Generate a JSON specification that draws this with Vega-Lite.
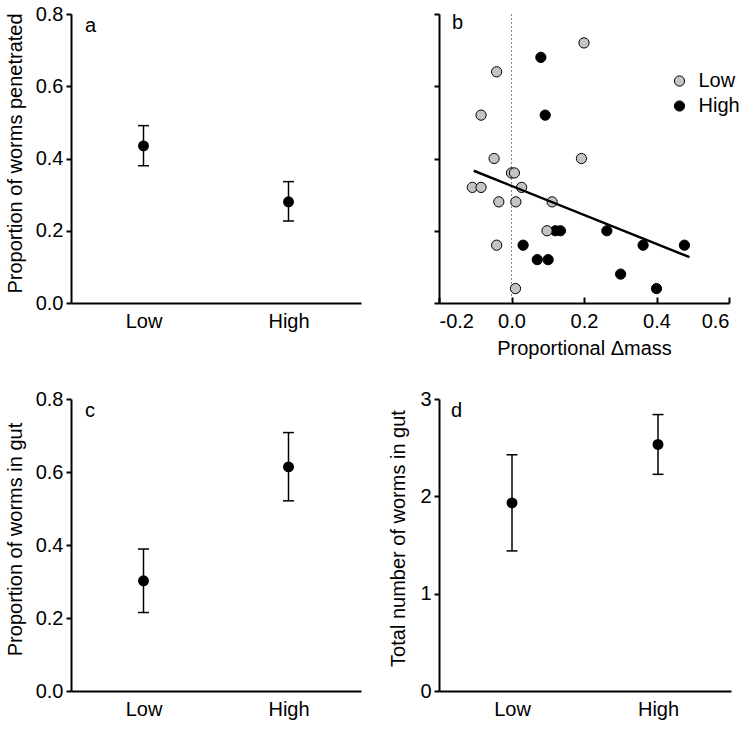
{
  "$schema": "https://vega.github.io/schema/vega-lite/v6.json",
  "background": "white",
  "padding": {"left": 5, "top": 4, "right": 5, "bottom": 5},
  "config": {
    "font": "Liberation Sans",
    "view": {"stroke": null},
    "axis": {
      "domainColor": "black", "domainWidth": 2, "tickColor": "black", "tickWidth": 2,
      "labelFontSize": 20, "titleFontSize": 20, "titleFontWeight": "normal",
      "labelColor": "black", "titleColor": "black", "grid": false, "labelFont": "Liberation Sans", "titleFont": "Liberation Sans"
    },
    "text": {"font": "Liberation Sans", "fontSize": 20, "fontWeight": "normal", "color": "black"}
  },
  "datasets": {
    "penetrated": [
      {"density": "Low", "mean": 0.435, "lo": 0.380, "hi": 0.491},
      {"density": "High", "mean": 0.280, "lo": 0.227, "hi": 0.336}
    ],
    "gutprop": [
      {"density": "Low", "mean": 0.302, "lo": 0.215, "hi": 0.389},
      {"density": "High", "mean": 0.614, "lo": 0.521, "hi": 0.708}
    ],
    "gutnum": [
      {"density": "Low", "mean": 1.933, "lo": 1.439, "hi": 2.427},
      {"density": "High", "mean": 2.533, "lo": 2.226, "hi": 2.840}
    ],
    "scatter": [
      {"density": "High", "dmass": 0.081, "prop": 0.68},
      {"density": "High", "dmass": 0.093, "prop": 0.52},
      {"density": "High", "dmass": 0.121, "prop": 0.2},
      {"density": "High", "dmass": 0.135, "prop": 0.2},
      {"density": "High", "dmass": 0.263, "prop": 0.2},
      {"density": "High", "dmass": 0.032, "prop": 0.16},
      {"density": "High", "dmass": 0.363, "prop": 0.16},
      {"density": "High", "dmass": 0.477, "prop": 0.16},
      {"density": "High", "dmass": 0.071, "prop": 0.12},
      {"density": "High", "dmass": 0.101, "prop": 0.12},
      {"density": "High", "dmass": 0.301, "prop": 0.08},
      {"density": "High", "dmass": 0.4, "prop": 0.04},
      {"density": "Low", "dmass": 0.2, "prop": 0.72},
      {"density": "Low", "dmass": -0.041, "prop": 0.64},
      {"density": "Low", "dmass": -0.084, "prop": 0.52},
      {"density": "Low", "dmass": -0.048, "prop": 0.4},
      {"density": "Low", "dmass": 0.193, "prop": 0.4},
      {"density": "Low", "dmass": 0.0, "prop": 0.36},
      {"density": "Low", "dmass": 0.008, "prop": 0.36},
      {"density": "Low", "dmass": -0.108, "prop": 0.32},
      {"density": "Low", "dmass": -0.084, "prop": 0.32},
      {"density": "Low", "dmass": 0.028, "prop": 0.32},
      {"density": "Low", "dmass": -0.035, "prop": 0.28},
      {"density": "Low", "dmass": 0.012, "prop": 0.28},
      {"density": "Low", "dmass": 0.112, "prop": 0.28},
      {"density": "Low", "dmass": 0.098, "prop": 0.2},
      {"density": "Low", "dmass": -0.041, "prop": 0.16},
      {"density": "Low", "dmass": 0.011, "prop": 0.04}
    ],
    "fit": [
      {"dmass": -0.104, "prop": 0.366},
      {"dmass": 0.491, "prop": 0.127}
    ]
  },
  "bounds": "flush",
  "columns": 2,
  "spacing": {"row": 96, "column": 78},
  "resolve": {"legend": {"color": "independent"}},
  "concat": [
    {
      "width": 290, "height": 289,
      "data": {"name": "penetrated"},
      "encoding": {
        "x": {"field": "density", "type": "nominal", "sort": ["Low", "High"], "scale": {"type": "point", "padding": 0.5},
              "axis": {"title": null, "ticks": false, "labelAngle": 0, "labelPadding": 8.5}}
      },
      "layer": [
        {"mark": {"type": "rule", "strokeWidth": 1.5, "color": "black"},
         "encoding": {"y": {"field": "lo", "type": "quantitative", "scale": {"domain": [0, 0.8], "nice": false},
                            "axis": {"title": "Proportion of worms penetrated", "values": [0, 0.2, 0.4, 0.6, 0.8], "format": ".1f", "tickSize": 5, "labelPadding": 3, "titlePadding": 10, "titleY": 139}},
                      "y2": {"field": "hi"}}},
        {"mark": {"type": "tick", "size": 11, "thickness": 1.5, "color": "black", "opacity": 1},
         "encoding": {"y": {"field": "lo", "type": "quantitative"}}},
        {"mark": {"type": "tick", "size": 11, "thickness": 1.5, "color": "black", "opacity": 1},
         "encoding": {"y": {"field": "hi", "type": "quantitative"}}},
        {"mark": {"type": "point", "filled": true, "size": 120, "color": "black", "opacity": 1},
         "encoding": {"y": {"field": "mean", "type": "quantitative"}}},
        {"data": {"values": [{"panel": "a"}]},
         "mark": {"type": "text", "align": "left", "baseline": "alphabetic", "dx": -58.5},
         "encoding": {"text": {"field": "panel"}, "x": {"datum": "Low"}, "y": {"datum": 0.7515}}}
      ]
    },
    {
      "width": 290, "height": 289,
      "layer": [
        {"data": {"values": [{"zero": 0}]},
         "mark": {"type": "rule", "strokeDash": [2, 2], "color": "#888888", "strokeWidth": 1},
         "encoding": {"x": {"field": "zero", "type": "quantitative"}}},
        {"data": {"name": "scatter"},
         "mark": {"type": "point", "filled": true, "size": 105, "stroke": "black", "strokeWidth": 1, "opacity": 1},
         "encoding": {
           "x": {"field": "dmass", "type": "quantitative", "scale": {"domain": [-0.2, 0.6], "nice": false},
                 "axis": {"title": "Proportional Δmass", "values": [-0.2, 0, 0.2, 0.4, 0.6],
                          "labelExpr": "datum.value < 0 ? '-' + format(-datum.value, '.1f') : format(datum.value, '.1f')",
                          "tickSize": -6, "labelPadding": 14.5, "titlePadding": 7}},
           "y": {"field": "prop", "type": "quantitative", "scale": {"domain": [0, 0.8], "nice": false},
                 "axis": {"title": null, "labels": false, "values": [0, 0.2, 0.4, 0.6, 0.8], "tickSize": 5}},
           "color": {"field": "density", "type": "nominal", "scale": {"domain": ["Low", "High"], "range": ["#c4c4c4", "#000000"]},
                     "legend": {"title": null, "orient": "none", "legendX": 230.5, "legendY": 57, "padding": 0, "labelFontSize": 20,
                                "labelColor": "black", "labelFont": "Liberation Sans", "symbolSize": 105, "symbolType": "circle", "symbolStrokeColor": "black", "symbolStrokeWidth": 1,
                                "rowPadding": 5, "labelOffset": 9, "symbolOpacity": 1}}
         }},
        {"data": {"name": "fit"},
         "mark": {"type": "line", "color": "black", "strokeWidth": 2.5},
         "encoding": {"x": {"field": "dmass", "type": "quantitative"}, "y": {"field": "prop", "type": "quantitative"}}},
        {"data": {"values": [{"panel": "b", "px": -0.164, "py": 0.758}]},
         "mark": {"type": "text", "align": "left", "baseline": "alphabetic"},
         "encoding": {"text": {"field": "panel"}, "x": {"field": "px", "type": "quantitative"}, "y": {"field": "py", "type": "quantitative"}}}
      ]
    },
    {
      "width": 290, "height": 292,
      "data": {"name": "gutprop"},
      "encoding": {
        "x": {"field": "density", "type": "nominal", "sort": ["Low", "High"], "scale": {"type": "point", "padding": 0.5},
              "axis": {"title": null, "ticks": false, "labelAngle": 0, "labelPadding": 8.5}}
      },
      "layer": [
        {"mark": {"type": "rule", "strokeWidth": 1.5, "color": "black"},
         "encoding": {"y": {"field": "lo", "type": "quantitative", "scale": {"domain": [0, 0.8], "nice": false},
                            "axis": {"title": "Proportion of worms in gut", "values": [0, 0.2, 0.4, 0.6, 0.8], "format": ".1f", "tickSize": 5, "labelPadding": 3, "titlePadding": 10, "titleY": 140}},
                      "y2": {"field": "hi"}}},
        {"mark": {"type": "tick", "size": 11, "thickness": 1.5, "color": "black", "opacity": 1},
         "encoding": {"y": {"field": "lo", "type": "quantitative"}}},
        {"mark": {"type": "tick", "size": 11, "thickness": 1.5, "color": "black", "opacity": 1},
         "encoding": {"y": {"field": "hi", "type": "quantitative"}}},
        {"mark": {"type": "point", "filled": true, "size": 120, "color": "black", "opacity": 1},
         "encoding": {"y": {"field": "mean", "type": "quantitative"}}},
        {"data": {"values": [{"panel": "c"}]},
         "mark": {"type": "text", "align": "left", "baseline": "alphabetic", "dx": -58.5},
         "encoding": {"text": {"field": "panel"}, "x": {"datum": "Low"}, "y": {"datum": 0.752}}}
      ]
    },
    {
      "width": 292, "height": 292,
      "data": {"name": "gutnum"},
      "encoding": {
        "x": {"field": "density", "type": "nominal", "sort": ["Low", "High"], "scale": {"type": "point", "padding": 0.5},
              "axis": {"title": null, "ticks": false, "labelAngle": 0, "labelPadding": 8.5}}
      },
      "layer": [
        {"mark": {"type": "rule", "strokeWidth": 1.5, "color": "black"},
         "encoding": {"y": {"field": "lo", "type": "quantitative", "scale": {"domain": [0, 3], "nice": false},
                            "axis": {"title": "Total number of worms in gut", "values": [0, 1, 2, 3], "format": "d", "tickSize": 5, "labelPadding": 3, "titlePadding": 11, "titleY": 139}},
                      "y2": {"field": "hi"}}},
        {"mark": {"type": "tick", "size": 11, "thickness": 1.5, "color": "black", "opacity": 1},
         "encoding": {"y": {"field": "lo", "type": "quantitative"}}},
        {"mark": {"type": "tick", "size": 11, "thickness": 1.5, "color": "black", "opacity": 1},
         "encoding": {"y": {"field": "hi", "type": "quantitative"}}},
        {"mark": {"type": "point", "filled": true, "size": 120, "color": "black", "opacity": 1},
         "encoding": {"y": {"field": "mean", "type": "quantitative"}}},
        {"data": {"values": [{"panel": "d"}]},
         "mark": {"type": "text", "align": "left", "baseline": "alphabetic", "dx": -61},
         "encoding": {"text": {"field": "panel"}, "x": {"datum": "Low"}, "y": {"datum": 2.81}}}
      ]
    }
  ]
}
